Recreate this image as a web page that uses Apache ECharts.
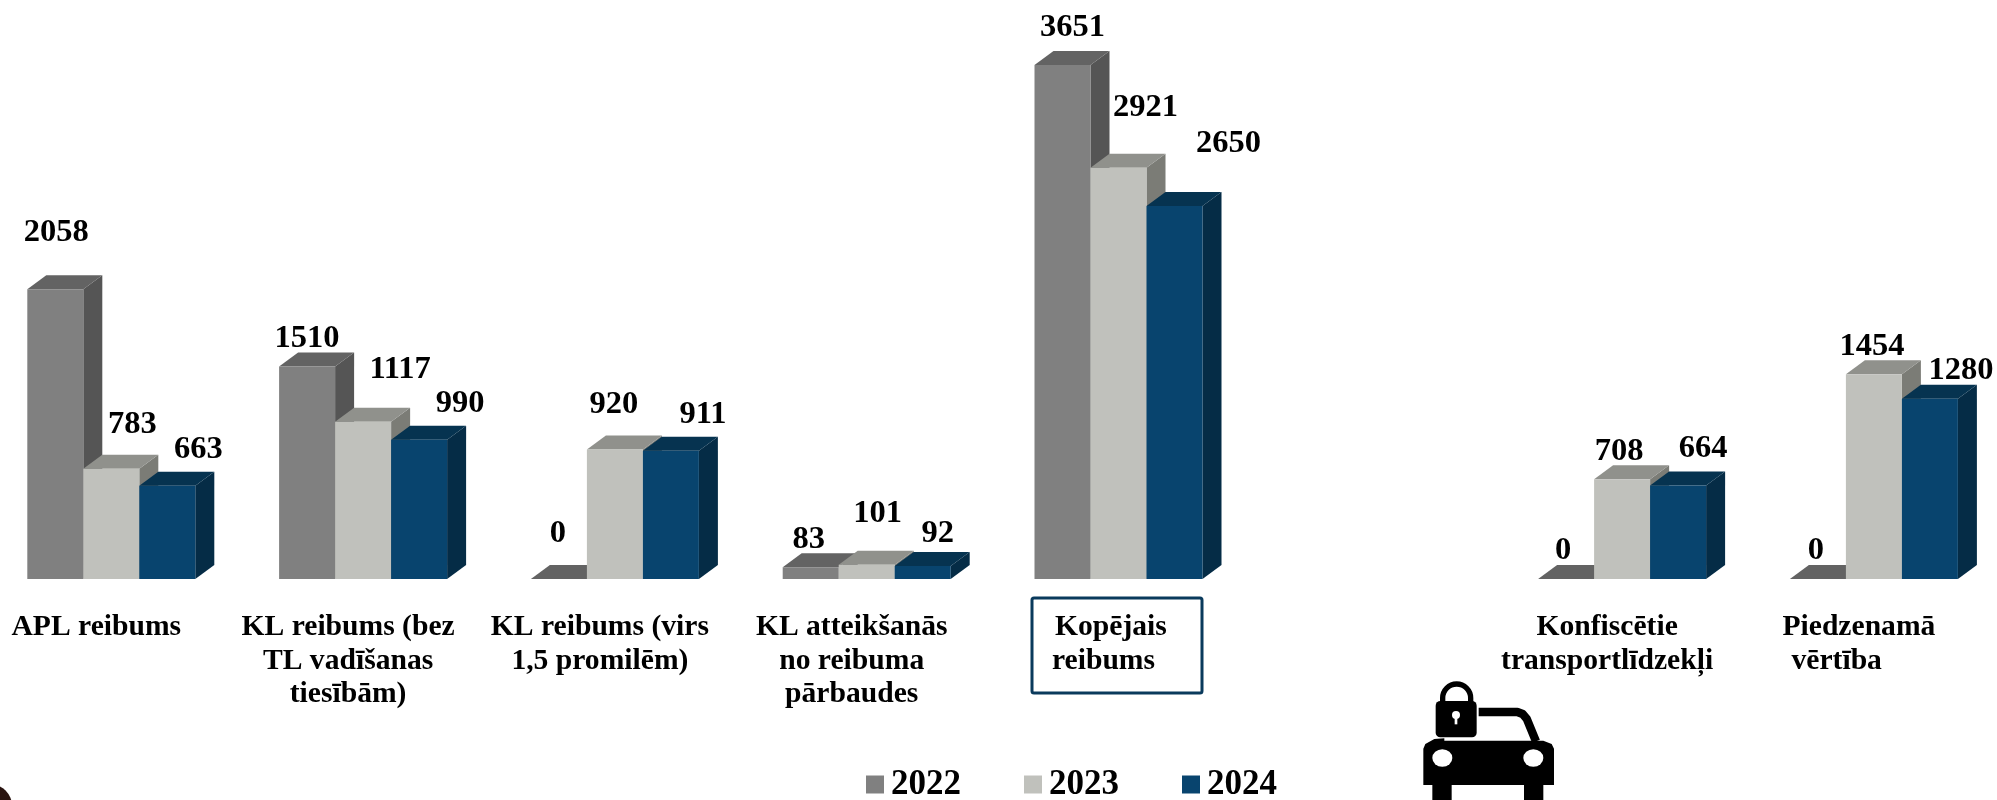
<!DOCTYPE html>
<html><head><meta charset="utf-8">
<style>html,body{margin:0;padding:0;background:#fff}#c{width:1997px;height:800px}</style>
<script src="https://cdn.jsdelivr.net/npm/echarts@6/dist/echarts.min.js"></script>
</head><body><div id="c"></div>
<script>
const categories = ['APL reibums','KL reibums (bez\nTL vadīšanas\ntiesībām)','KL reibums (virs\n1,5 promilēm)','KL atteikšanās\nno reibuma\npārbaudes','  Kopējais\nreibums',' ','Konfiscētie\ntransportlīdzekļi','Piedzenamā\nvērtība      '];
const values2022 = [2058,1510,0,83,3651,null,0,0];
const values2023 = [783,1117,920,101,2921,null,708,1454];
const values2024 = [663,990,911,92,2650,null,664,1280];
const yearNames = ['2022','2023','2024'];

// label nudges relative to each bar's front top-centre
const labelShift2022 = [[1,-57],[0,-28],[-1,-45],[-2,-28],[10,-38],null,[-3,-28],[-2,-28]];
const labelShift2023 = [[21,-44],[37,-52],[-1,-45],[11,-51],[27,-60],null,[-3,-28],[-2,-28]];
const labelShift2024 = [[31,-36],[41,-36],[32,-36],[15,-32],[54,-62],null,[25,-37],[31,-28]];

const FONT = '"Liberation Serif","Times New Roman",serif';
const DEPTH_X = 19, DEPTH_Y = 14, BAR_RATIO = 56 / 251.8;
const palettes = [
  {front:'#808080', top:'#636363', side:'#555555'},
  {front:'#c0c1bc', top:'#90918c', side:'#7b7c76'},
  {front:'#08446e', top:'#063350', side:'#052c46'}
];

function bar3d(index, shifts) {
  const pal = palettes[index];
  return function (params, api) {
    const cat = api.value(0), val = api.value(1);
    const base = api.coord([cat, 0]), tip = api.coord([cat, val]);
    const w = api.size([1, 0])[0] * BAR_RATIO;
    const x0 = base[0] + (index - 1.5) * w, x1 = x0 + w;
    const yT = tip[1], yB = base[1];
    const shift = shifts[cat] || [0, -30];
    const children = [
      {type:'polygon', shape:{points:[[x1,yT],[x1+DEPTH_X,yT-DEPTH_Y],[x1+DEPTH_X,yB-DEPTH_Y],[x1,yB]]}, style:{fill:pal.side}},
      {type:'polygon', shape:{points:[[x0,yT],[x0+DEPTH_X,yT-DEPTH_Y],[x1+DEPTH_X,yT-DEPTH_Y],[x1,yT]]}, style:{fill:pal.top}},
      {type:'rect', shape:{x:x0, y:yT, width:w, height:yB-yT}, style:{fill:pal.front}},
      {type:'text', z2:100, style:{x:(x0+x1)/2+shift[0], y:yT+shift[1], text:String(val), textAlign:'center', textVerticalAlign:'middle',
        fontFamily:FONT, fontWeight:'bold', fontSize:32.5, fill:'#000'}}
    ];
    return {type:'group', children};
  };
}
function toData(values){ const out=[]; values.forEach((v,i)=>{ if(v!==null) out.push([i,v]); }); return out; }

const chart = echarts.init(document.getElementById('c'), null, {renderer:'canvas'});
chart.setOption({
  animation:false,
  backgroundColor:'#fff',
  color:palettes.map(p=>p.front),
  grid:{left:-14.6, top:16, width:2014.4, height:563, containLabel:false, outerBoundsMode:'none'},
  xAxis:{type:'category', data:categories, axisLine:{show:false}, axisTick:{show:false}, splitLine:{show:false},
    axisLabel:{interval:0, margin:32, color:'#000', fontFamily:FONT, fontWeight:'bold', fontSize:29.6, lineHeight:33.5, padding:[0,30,0,0], align:'center', verticalAlign:'top', hideOverlap:false}},
  yAxis:{type:'value', min:0, max:4000, show:false, splitLine:{show:false}},
  legend:{show:true, data:yearNames, left:866, top:767, icon:'rect', itemWidth:18, itemHeight:18, itemGap:63, padding:0,
    textStyle:{color:'#000', fontFamily:FONT, fontWeight:'bold', fontSize:35, padding:[0,0,0,2]}},
  tooltip:{show:false},
  series:[
    {name:yearNames[0], type:'custom', renderItem:bar3d(0,labelShift2022), data:toData(values2022), encode:{x:0,y:1}},
    {name:yearNames[1], type:'custom', renderItem:bar3d(1,labelShift2023), data:toData(values2023), encode:{x:0,y:1}},
    {name:yearNames[2], type:'custom', renderItem:bar3d(2,labelShift2024), data:toData(values2024), encode:{x:0,y:1}}
  ],
  graphic:[
    {type:'rect', silent:true, shape:{x:1032,y:598,width:170,height:95,r:2}, style:{fill:'none',stroke:'#0a3a5c',lineWidth:3}},
    {type:'circle', silent:true, shape:{cx:-10,cy:806,r:22}, style:{fill:'#2a1410'}},
    {type:'group', silent:true, x:1400, y:670, scaleX:1/3, scaleY:1/3, children:[
      {type:'polygon', shape:{smooth:0, points:[[70,345],[70,236],[76,222],[103,207],[133,205],[133,212],[430,212],[455,222],[462,236],[462,345]]}, style:{fill:'#000'}},
      {type:'rect', shape:{x:97,y:340,width:58,height:50}, style:{fill:'#000'}},
      {type:'rect', shape:{x:372,y:340,width:58,height:50}, style:{fill:'#000'}},
      {type:'circle', x:127, y:264, scaleY:0.87, shape:{cx:0,cy:0,r:30}, style:{fill:'#fff'}},
      {type:'circle', x:400, y:264, scaleY:0.87, shape:{cx:0,cy:0,r:30}, style:{fill:'#fff'}},
      {type:'polyline', shape:{points:[[236,126],[352,126],[368,132],[380,146],[408,214]]}, style:{fill:'none',stroke:'#000',lineWidth:25,lineJoin:'round'}},
      {type:'arc', shape:{cx:170,cy:84,r:42,startAngle:Math.PI,endAngle:2*Math.PI,clockwise:true}, style:{fill:'none',stroke:'#000',lineWidth:16}},
      {type:'rect', shape:{x:120,y:84,width:16,height:20}, style:{fill:'#000'}},
      {type:'rect', shape:{x:204,y:84,width:16,height:20}, style:{fill:'#000'}},
      {type:'rect', shape:{x:107,y:93,width:123,height:109,r:14}, style:{fill:'#000'}},
      {type:'circle', shape:{cx:168,cy:135,r:12}, style:{fill:'#fff'}},
      {type:'rect', shape:{x:164,y:138,width:8,height:25}, style:{fill:'#fff'}}
    ]}
  ]
});
</script></body></html>
